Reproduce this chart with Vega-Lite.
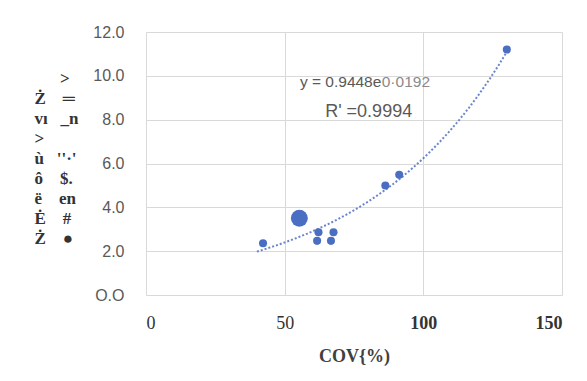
{
  "$schema": "https://vega.github.io/schema/vega-lite/v6.json",
  "width": 416,
  "height": 263,
  "autosize": "none",
  "padding": {"left": 146, "top": 32, "right": 25, "bottom": 86},
  "background": "white",
  "config": {"view": {"stroke": null}},
  "datasets": {
    "pts": [
      {"cov": 42.2, "val": 2.36, "kind": "normal"},
      {"cov": 55.3, "val": 3.5, "kind": "large"},
      {"cov": 62.2, "val": 2.86, "kind": "normal"},
      {"cov": 67.6, "val": 2.86, "kind": "normal"},
      {"cov": 61.7, "val": 2.47, "kind": "normal"},
      {"cov": 66.7, "val": 2.47, "kind": "normal"},
      {"cov": 86.3, "val": 5.0, "kind": "normal"},
      {"cov": 91.3, "val": 5.49, "kind": "normal"},
      {"cov": 130.1, "val": 11.2, "kind": "normal"}
    ],
    "notes": [
      {"x": 55.5, "y": 9.72, "label": "y = 0.9448e", "part": "eq"},
      {"x": 85.0, "y": 9.72, "label": "0·0192", "part": "exp"},
      {"x": 64.6, "y": 8.35, "label": "R'  =0.9994", "part": "r2"}
    ]
  },
  "layer": [
    {
      "data": {"name": "pts"},
      "transform": [{"regression": "val", "on": "cov", "method": "exp", "extent": [40, 131]}],
      "mark": {"type": "line", "color": "#5B78C6", "strokeWidth": 2, "strokeDash": [2, 2], "opacity": 0.9},
      "encoding": {
        "x": {"field": "cov", "type": "quantitative"},
        "y": {"field": "val", "type": "quantitative"}
      }
    },
    {
      "data": {"name": "pts"},
      "mark": {"type": "circle", "opacity": 1, "color": "#4A6FC2"},
      "encoding": {
        "x": {
          "field": "cov", "type": "quantitative",
          "scale": {"domain": [0, 150], "nice": false, "zero": false},
          "axis": {
            "values": [0, 50, 100, 150],
            "grid": true, "gridColor": "#D9D9D9", "domain": false, "ticks": false,
            "labelFont": "Liberation Serif", "labelFontSize": 18, "labelColor": "#333333",
            "labelPadding": 19,
            "labelFontWeight": {"condition": {"test": "datum.value >= 100", "value": "bold"}, "value": "normal"},
            "title": "COV{%)", "titleFont": "Liberation Serif", "titleFontSize": 18,
            "titleFontWeight": "bold", "titleColor": "#404040", "titlePadding": 15
          }
        },
        "y": {
          "field": "val", "type": "quantitative",
          "scale": {"domain": [0, 12], "nice": false},
          "axis": {
            "values": [0, 2, 4, 6, 8, 10, 12],
            "grid": true, "gridColor": "#D9D9D9", "domain": false, "ticks": false,
            "labelExpr": "datum.value == 0 ? 'O.O' : format(datum.value, '.1f')",
            "labelFont": "Liberation Sans", "labelFontSize": 16, "labelColor": "#595959",
            "labelPadding": 22,
            "title": ["\u200b\u00a0\u00a0\u00a0\u00a0\u00a0\u00a0>", "Ż\u00a0\u00a0\u00a0\u00a0═", "vı\u00a0\u00a0\u00a0_n", "\u200b>", "ù\u00a0\u00a0\u00a0''·'", "ô\u00a0\u00a0\u00a0\u00a0$.", "ë\u00a0\u00a0\u00a0\u00a0en", "Ė\u00a0\u00a0\u00a0\u00a0#", "Ż\u00a0\u00a0\u00a0\u00a0●"],
            "titleAngle": 0, "titleAlign": "left", "titleBaseline": "top",
            "titleX": -112, "titleY": 38, "titleLineHeight": 20,
            "titleFont": "Liberation Serif", "titleFontSize": 17, "titleFontWeight": "bold",
            "titleColor": "#333333"
          }
        },
        "size": {
          "field": "kind", "type": "nominal",
          "scale": {"type": "ordinal", "domain": ["normal", "large"], "range": [65, 285]},
          "legend": null
        }
      }
    },
    {
      "data": {"name": "notes"},
      "transform": [{"filter": "datum.part == 'eq'"}],
      "mark": {"type": "text", "align": "left", "baseline": "middle", "font": "Liberation Sans", "fontSize": 15.5, "color": "#595959"},
      "encoding": {
        "x": {"field": "x", "type": "quantitative"},
        "y": {"field": "y", "type": "quantitative"},
        "text": {"field": "label"}
      }
    },
    {
      "data": {"name": "notes"},
      "transform": [{"filter": "datum.part == 'exp'"}],
      "mark": {"type": "text", "align": "left", "baseline": "middle", "font": "Liberation Sans", "fontSize": 15.5, "color": "#8A8A8A"},
      "encoding": {
        "x": {"field": "x", "type": "quantitative"},
        "y": {"field": "y", "type": "quantitative"},
        "text": {"field": "label"}
      }
    },
    {
      "data": {"name": "notes"},
      "transform": [{"filter": "datum.part == 'r2'"}],
      "mark": {"type": "text", "align": "left", "baseline": "middle", "font": "Liberation Sans", "fontSize": 18, "color": "#595959"},
      "encoding": {
        "x": {"field": "x", "type": "quantitative"},
        "y": {"field": "y", "type": "quantitative"},
        "text": {"field": "label"}
      }
    }
  ]
}
